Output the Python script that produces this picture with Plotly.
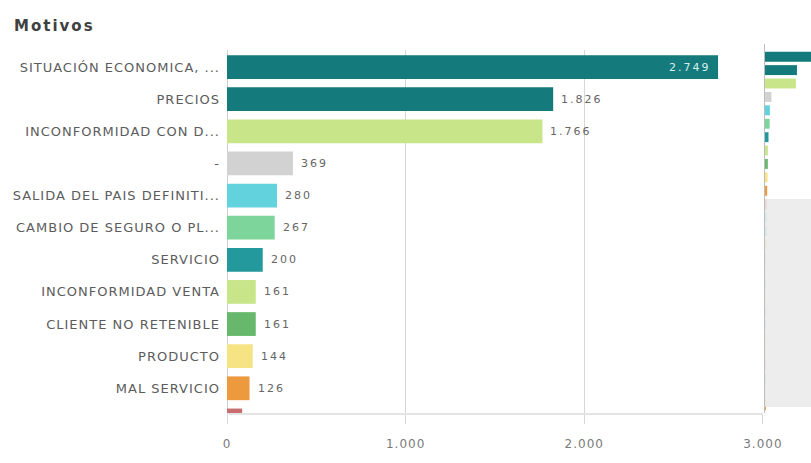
import plotly.graph_objects as go

# Categories in display order (top to bottom) and their counts
categorias = [
    "SITUACIÓN ECONOMICA, ...", "PRECIOS", "INCONFORMIDAD CON D...", "-",
    "SALIDA DEL PAIS DEFINITI...", "CAMBIO DE SEGURO O PL...", "SERVICIO",
    "INCONFORMIDAD VENTA", "CLIENTE NO RETENIBLE", "PRODUCTO", "MAL SERVICIO",
    "OTROS 12",
]
valores = [2749, 1826, 1766, 369, 280, 267, 200, 161, 161, 144, 126, 85]
colores = [
    "#157a7b", "#157a7b", "#c8e58a", "#d2d2d2", "#62d2dc", "#7dd59b",
    "#23999d", "#c8e58a", "#67b86c", "#f6e383", "#ec9a3d", "#c86e6e",
]

# Remaining categories below the scrolled view (shown only in the overview strip)
categorias_resto = ["OTROS %d" % i for i in range(13, 28)]
valores_resto = [74, 68, 61, 55, 49, 43, 38, 33, 28, 24, 19, 15, 11, 7, 4]
colores_resto = [
    "#62d2dc", "#62d2dc", "#f6e383", "#e7a9b4", "#a9dcc0", "#7dd59b",
    "#f6e383", "#e7a9b4", "#62d2dc", "#c8e58a", "#f6e383", "#e7a9b4",
    "#7dd59b", "#d2d2d2", "#ec9a3d",
]

ticks_x = [0, 1000, 2000, 3000]

W, H = 811, 463
FONT = "DejaVu Sans"
GRID = "#d6d6d6"

def px_x(p):
    return p / W

def px_y(p):
    return 1 - p / H

def fmt(v):
    return f"{v:,}".replace(",", ".")

fig = go.Figure()

# main bar chart
fig.add_trace(go.Bar(
    x=valores, y=categorias, orientation="h",
    marker=dict(color=colores, line=dict(width=0)),
    width=0.74,
    hoverinfo="skip",
    xaxis="x", yaxis="y",
))

# overview strip with all categories
todas_cat = categorias + categorias_resto
fig.add_trace(go.Bar(
    x=valores + valores_resto, y=todas_cat, orientation="h",
    marker=dict(color=colores + colores_resto, line=dict(width=0)),
    width=0.74,
    hoverinfo="skip",
    xaxis="x2", yaxis="y2",
))

# value labels: inside the end of the longest bar, outside for the rest
max_v = max(valores)
etiquetas = []
for cat, v in zip(categorias, valores):
    dentro = v == max_v
    etiquetas.append(dict(
        x=v, y=cat, xref="x", yref="y",
        text=fmt(v), showarrow=False,
        xanchor="right" if dentro else "left",
        align="right" if dentro else "left",
        xshift=-5 if dentro else 6,
        yanchor="middle",
        font=dict(family=FONT, size=11,
                  color="#d9eeee" if dentro else "#666666"),
    ))

main_top, main_bottom = 50, 414
fig.update_layout(
    width=W, height=H,
    margin=dict(l=0, r=0, t=0, b=0, autoexpand=False),
    paper_bgcolor="white", plot_bgcolor="white",
    separators=",.",
    showlegend=False,
    font=dict(family=FONT, color="#595959"),
    xaxis=dict(
        domain=[px_x(227), px_x(763)],
        range=[0, 3000.5], automargin=False,
        tickvals=ticks_x, tickformat=",.0f",
        showgrid=True, gridcolor=GRID, gridwidth=1,
        zeroline=True, zerolinecolor="#cfcfcf", zerolinewidth=1,
        ticks="outside", ticklen=9, tickcolor=GRID, tickwidth=1,
        ticklabelstandoff=10,
        tickfont=dict(family=FONT, size=12, color="#7a7a7a"),
        showline=False, anchor="y",
    ),
    yaxis=dict(
        domain=[px_y(main_bottom), px_y(main_top)],
        type="category", categoryorder="array", categoryarray=categorias,
        range=[10.8, -0.53], automargin=False,
        showgrid=False, zeroline=False, showline=False,
        ticks="", ticklabelstandoff=6,
        tickfont=dict(family=FONT, size=13, color="#5c5c5c"),
        anchor="x",
    ),
    xaxis2=dict(
        domain=[px_x(765), 1], range=[0, 2630], automargin=False,
        showgrid=False, zeroline=False, showticklabels=False, showline=False,
        anchor="y2",
    ),
    yaxis2=dict(
        domain=[px_y(412), px_y(50)],
        type="category", categoryorder="array", categoryarray=todas_cat,
        range=[26.5, -0.5], automargin=False,
        showgrid=False, zeroline=False, showticklabels=False, showline=False,
        anchor="x2",
    ),
    shapes=[
        # fade line at the bottom edge of the scrolled view
        dict(type="line", xref="paper", yref="paper",
             x0=px_x(227), x1=px_x(763), y0=px_y(414), y1=px_y(414),
             line=dict(color="#e4e4e4", width=2), layer="above"),
        # overview axis line
        dict(type="line", xref="paper", yref="paper",
             x0=px_x(764.5), x1=px_x(764.5), y0=px_y(44), y1=px_y(413),
             line=dict(color="#bdbdbd", width=1)),
        # out-of-view region of the overview
        dict(type="rect", xref="paper", yref="paper",
             x0=px_x(765), x1=1, y0=px_y(407), y1=px_y(199),
             fillcolor="rgba(234,234,234,0.88)", line=dict(width=0),
             layer="above"),
    ],
    annotations=etiquetas + [
        dict(text="<b>Motivos</b>", xref="paper", yref="paper",
             x=px_x(12), y=px_y(26), xanchor="left", align="left",
             yanchor="middle", showarrow=False,
             font=dict(family=FONT, size=15, color="#404040")),
    ],
)

# page styling: no scrollbars and the wide letter spacing of the labels
post = """
var st = document.createElement('style');
st.textContent = 'html,body{margin:0;padding:0;overflow:hidden}' +
  '.ytick text{letter-spacing:1px}' +
  '.xtick text{letter-spacing:1px}' +
  '.annotation-text{letter-spacing:2px}';
document.head.appendChild(st);
"""

fig.write_html("out.html", post_script=post)
